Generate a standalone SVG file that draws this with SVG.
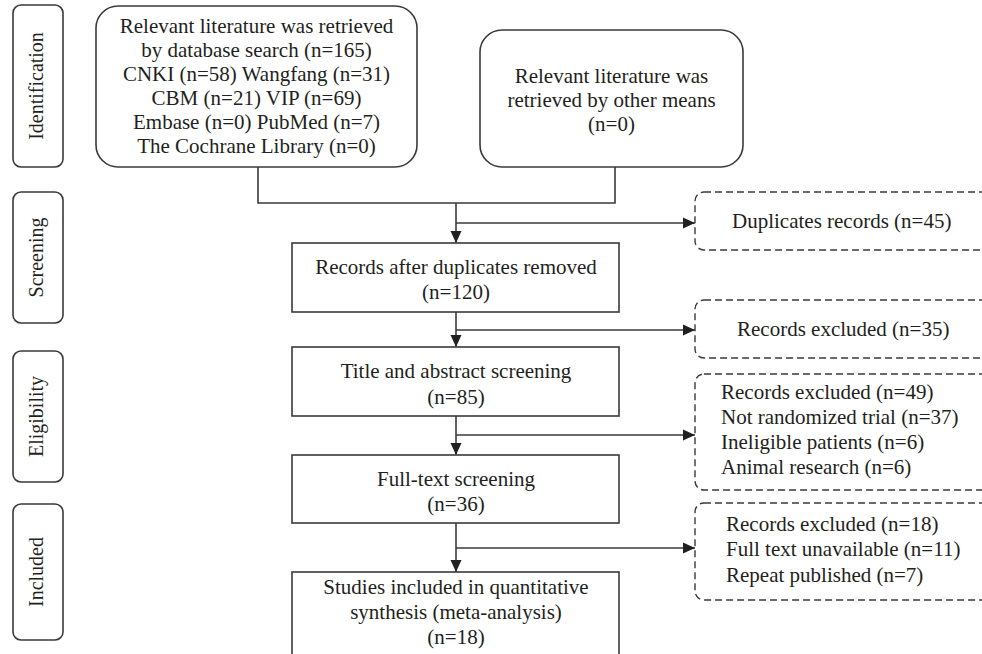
<svg xmlns="http://www.w3.org/2000/svg" width="982" height="654" viewBox="0 0 982 654">
<style>
text{font-family:"Liberation Serif","Times New Roman",serif;font-size:21px;fill:#231f20}
.c{text-anchor:middle}
.side text{font-size:20px}
.box{fill:#fff;stroke:#3a3a3a;stroke-width:1.6}
.dash{fill:#fff;stroke:#3a3a3a;stroke-width:1.4;stroke-dasharray:7,4}
.ln{fill:none;stroke:#3a3a3a;stroke-width:1.6}
</style>
<defs>
<marker id="ah" markerUnits="userSpaceOnUse" markerWidth="12" markerHeight="12" viewBox="0 0 12 12" refX="12" refY="6" orient="auto">
<path d="M0,0.5 L12,6 L0,11.5 Z" fill="#231f20"/>
</marker>
</defs>

<g id="side-identification" class="side">
<rect class="box" x="13" y="5" width="50" height="162" rx="8"/>
<text class="c" transform="translate(43,86) rotate(-90)">Identification</text>
</g>
<g id="side-screening" class="side">
<rect class="box" x="13" y="192" width="50" height="131" rx="8"/>
<text class="c" transform="translate(43,257.5) rotate(-90)">Screening</text>
</g>
<g id="side-eligibility" class="side">
<rect class="box" x="13" y="351" width="50" height="131" rx="8"/>
<text class="c" transform="translate(43,416.5) rotate(-90)">Eligibility</text>
</g>
<g id="side-included" class="side">
<rect class="box" x="13" y="504" width="50" height="136" rx="8"/>
<text class="c" transform="translate(43,572) rotate(-90)">Included</text>
</g>

<g id="connectors">
<path class="ln" d="M258,167 V203 H615 V167"/>
<path class="ln" d="M456,203 V243" marker-end="url(#ah)"/>
<path class="ln" d="M456,223 H695" marker-end="url(#ah)"/>
<path class="ln" d="M456,312 V347" marker-end="url(#ah)"/>
<path class="ln" d="M456,330 H695" marker-end="url(#ah)"/>
<path class="ln" d="M456,416 V455" marker-end="url(#ah)"/>
<path class="ln" d="M456,435 H695" marker-end="url(#ah)"/>
<path class="ln" d="M456,523 V572" marker-end="url(#ah)"/>
<path class="ln" d="M456,548 H695" marker-end="url(#ah)"/>
</g>

<g id="db-search">
<rect class="box" x="96" y="6" width="321" height="161" rx="22"/>
<text class="c" x="256.5" y="33">Relevant literature was retrieved</text>
<text class="c" x="256.5" y="57">by database search (n=165)</text>
<text class="c" x="256.5" y="81">CNKI (n=58) Wangfang (n=31)</text>
<text class="c" x="256.5" y="105">CBM (n=21) VIP (n=69)</text>
<text class="c" x="256.5" y="129">Embase (n=0) PubMed (n=7)</text>
<text class="c" x="256.5" y="153">The Cochrane Library (n=0)</text>
</g>

<g id="other-means">
<rect class="box" x="480" y="30" width="263" height="137" rx="22"/>
<text class="c" x="611.5" y="83">Relevant literature was</text>
<text class="c" x="611.5" y="107">retrieved by other means</text>
<text class="c" x="611.5" y="131">(n=0)</text>
</g>

<g id="after-duplicates">
<rect class="box" x="292" y="243" width="327" height="69"/>
<text class="c" x="456" y="274">Records after duplicates removed</text>
<text class="c" x="456" y="299">(n=120)</text>
</g>

<g id="title-abstract">
<rect class="box" x="292" y="347" width="327" height="69"/>
<text class="c" x="456" y="378">Title and abstract screening</text>
<text class="c" x="456" y="404">(n=85)</text>
</g>

<g id="full-text">
<rect class="box" x="292" y="455" width="327" height="68"/>
<text class="c" x="456" y="486">Full-text screening</text>
<text class="c" x="456" y="511">(n=36)</text>
</g>

<g id="included-studies">
<rect class="box" x="292" y="572" width="327" height="100"/>
<text class="c" x="456" y="594">Studies included in quantitative</text>
<text class="c" x="456" y="619">synthesis (meta-analysis)</text>
<text class="c" x="456" y="644">(n=18)</text>
</g>

<g id="duplicates">
<rect class="dash" x="695" y="192" width="320" height="58" rx="9"/>
<text x="732" y="228">Duplicates records (n=45)</text>
</g>

<g id="excluded-35">
<rect class="dash" x="695" y="300" width="320" height="58" rx="9"/>
<text x="737" y="336">Records excluded (n=35)</text>
</g>

<g id="excluded-49">
<rect class="dash" x="695" y="374" width="320" height="116" rx="9"/>
<text x="721" y="399">Records excluded (n=49)</text>
<text x="721" y="424">Not randomized trial (n=37)</text>
<text x="721" y="449">Ineligible patients (n=6)</text>
<text x="721" y="474">Animal research (n=6)</text>
</g>

<g id="excluded-18">
<rect class="dash" x="695" y="503" width="320" height="97" rx="9"/>
<text x="726" y="531">Records excluded (n=18)</text>
<text x="726" y="556">Full text unavailable (n=11)</text>
<text x="726" y="582">Repeat published (n=7)</text>
</g>
</svg>
